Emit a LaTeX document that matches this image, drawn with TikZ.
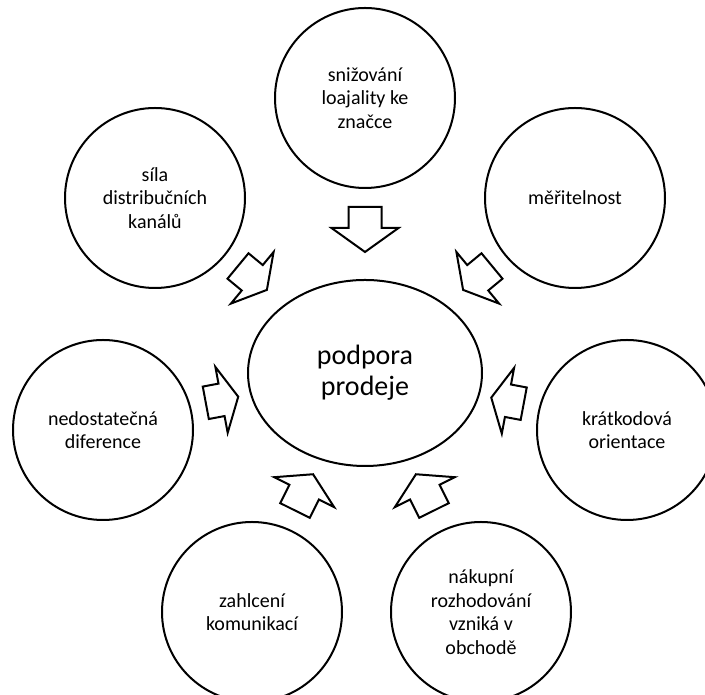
\documentclass[tikz,border=0pt]{standalone}
\usepackage{fontspec}
\setmainfont{Carlito}
\usetikzlibrary{shapes.geometric}
\begin{document}
\begin{tikzpicture}[x=1pt,y=1pt,
  outline/.style={draw=black, line width=2pt, line join=miter},
  bubble/.style={outline, circle, minimum size=180pt, inner sep=0pt,
    align=center, font=\fontsize{20}{23.5}\selectfont},
  hub/.style={outline, ellipse, minimum width=234pt, minimum height=186pt,
    inner sep=0pt, align=center, font=\fontsize{28}{31}\selectfont},
  % block arrow: tail centre at the origin, pointing along +x
  % #1 = total length, #2 = head length
  pics/blockarrow/.style n args={2}{code={
    \draw[outline, fill=white] (0,-16.5) -- ({#1-#2},-16.5) -- ({#1-#2},-33.5)
      -- (#1,0) -- ({#1-#2},33.5) -- ({#1-#2},16.5) -- (0,16.5) -- cycle;
  }}
]
\useasboundingbox (0,0) rectangle (705,695);
\clip (0,0) rectangle (705,695);

% central topic
\node[hub] (hub) at (365,322) {podpora\\prodeje};

% surrounding factors
\node[bubble] (loyal)   at (365,597) {snižování\\loajality ke\\značce};
\node[bubble] (channel) at (155,497) {síla\\distribučních\\kanálů};
\node[bubble] (measure) at (575,497) {měřitelnost};
\node[bubble] (diff)    at (103,265) {nedostatečná\\diference};
\node[bubble] (short)   at (627,265) {krátkodová\\orientace};
\node[bubble] (flood)   at (252,83)  {zahlcení\\komunikací};
\node[bubble] (store)   at (481,83)  {nákupní\\rozhodování\\vzniká v\\obchodě};

% block arrows pointing at the central topic
\pic[rotate=-90]   at (365,488)   {blockarrow={45}{24}};
\pic[rotate=-39.6] at (238,429)   {blockarrow={37.5}{19}};
\pic[rotate=-140.4] at (492,429)  {blockarrow={37.5}{19}};
\pic[rotate=10.6]  at (205.8,292.2) {blockarrow={33}{17}};
\pic[rotate=169.4] at (523.7,291.3) {blockarrow={33}{17}};
\pic[rotate=63.5]  at (295,184.5) {blockarrow={40.5}{20}};
\pic[rotate=116.5] at (434,184.5) {blockarrow={40.5}{20}};
\end{tikzpicture}
\end{document}
